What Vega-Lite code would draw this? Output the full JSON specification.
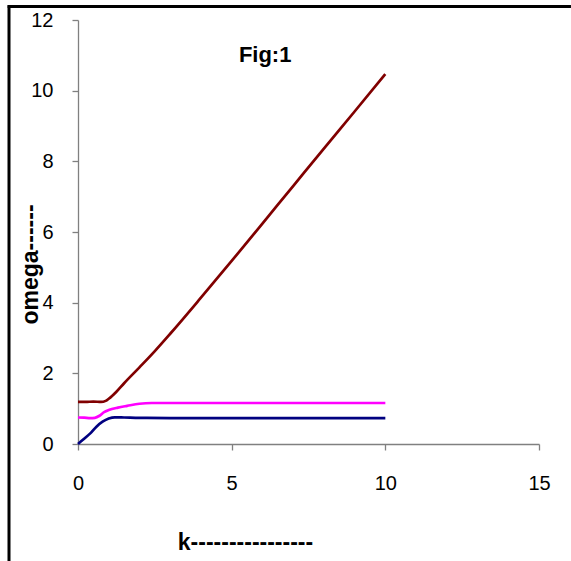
{
  "$schema": "https://vega.github.io/schema/vega-lite/v6.json",
  "width": 461,
  "height": 424,
  "autosize": {"type": "none"},
  "padding": {"left": 78, "top": 20, "right": 32, "bottom": 117},
  "background": "white",
  "config": {
    "view": {"stroke": null},
    "axis": {
      "grid": false,
      "domainColor": "#808080",
      "tickColor": "#808080",
      "domainWidth": 1.3,
      "tickWidth": 1.3,
      "tickSize": 6,
      "labelFlush": false,
      "labelOverlap": false,
      "labelFont": "Liberation Sans",
      "labelFontSize": 20,
      "labelColor": "black",
      "titleFont": "Liberation Sans",
      "titleFontSize": 23,
      "titleFontWeight": "bold",
      "titleColor": "black"
    }
  },
  "datasets": {
    "curves": [
      {"k": 0, "omega": 1.19, "series": "a"},
      {"k": 0.25, "omega": 1.19, "series": "a"},
      {"k": 0.5, "omega": 1.2, "series": "a"},
      {"k": 0.75, "omega": 1.19, "series": "a"},
      {"k": 0.9, "omega": 1.22, "series": "a"},
      {"k": 1.0, "omega": 1.28, "series": "a"},
      {"k": 1.25, "omega": 1.48, "series": "a"},
      {"k": 1.5, "omega": 1.72, "series": "a"},
      {"k": 2, "omega": 2.17, "series": "a"},
      {"k": 2.5, "omega": 2.63, "series": "a"},
      {"k": 3, "omega": 3.12, "series": "a"},
      {"k": 4, "omega": 4.14, "series": "a"},
      {"k": 5, "omega": 5.18, "series": "a"},
      {"k": 6, "omega": 6.24, "series": "a"},
      {"k": 7, "omega": 7.3, "series": "a"},
      {"k": 8, "omega": 8.36, "series": "a"},
      {"k": 9, "omega": 9.41, "series": "a"},
      {"k": 10, "omega": 10.47, "series": "a"},
      {"k": 0, "omega": 0.75, "series": "b"},
      {"k": 0.2, "omega": 0.745, "series": "b"},
      {"k": 0.4, "omega": 0.73, "series": "b"},
      {"k": 0.55, "omega": 0.74, "series": "b"},
      {"k": 0.7, "omega": 0.8, "series": "b"},
      {"k": 0.85, "omega": 0.9, "series": "b"},
      {"k": 1.0, "omega": 0.96, "series": "b"},
      {"k": 1.3, "omega": 1.03, "series": "b"},
      {"k": 1.6, "omega": 1.08, "series": "b"},
      {"k": 2.0, "omega": 1.14, "series": "b"},
      {"k": 2.4, "omega": 1.16, "series": "b"},
      {"k": 3, "omega": 1.16, "series": "b"},
      {"k": 5, "omega": 1.16, "series": "b"},
      {"k": 10, "omega": 1.16, "series": "b"},
      {"k": 0, "omega": 0, "series": "c"},
      {"k": 0.2, "omega": 0.15, "series": "c"},
      {"k": 0.4, "omega": 0.3, "series": "c"},
      {"k": 0.6, "omega": 0.49, "series": "c"},
      {"k": 0.8, "omega": 0.63, "series": "c"},
      {"k": 1.0, "omega": 0.72, "series": "c"},
      {"k": 1.2, "omega": 0.755, "series": "c"},
      {"k": 1.5, "omega": 0.75, "series": "c"},
      {"k": 2, "omega": 0.74, "series": "c"},
      {"k": 3, "omega": 0.735, "series": "c"},
      {"k": 10, "omega": 0.735, "series": "c"}
    ],
    "label": [{"k": 6.09, "omega": 10.82, "text": "Fig:1"}],
    "frame": [
      {"x1": -2.29, "x2": 16.04, "y1": 12.38, "y2": 12.38},
      {"x1": -2.245, "x2": -2.245, "y1": 12.42, "y2": -3.31}
    ]
  },
  "layer": [
    {
      "data": {"name": "curves"},
      "mark": {"type": "line", "interpolate": "monotone", "strokeWidth": 2.7},
      "encoding": {
        "x": {
          "field": "k", "type": "quantitative",
          "scale": {"domain": [0, 15], "nice": false},
          "axis": {
            "values": [0, 5, 10, 15],
            "labelPadding": 23,
            "title": "k----------------",
            "titleX": 167,
            "titleY": 105,
            "titleAlign": "center",
            "titleBaseline": "alphabetic"
          }
        },
        "y": {
          "field": "omega", "type": "quantitative",
          "scale": {"domain": [0, 12], "nice": false},
          "axis": {
            "values": [0, 2, 4, 6, 8, 10, 12],
            "labelPadding": 19,
            "title": "omega------",
            "titleX": -41,
            "titleY": 244,
            "titleAngle": -90,
            "titleAlign": "center",
            "titleBaseline": "alphabetic"
          }
        },
        "color": {
          "field": "series", "type": "nominal",
          "scale": {"domain": ["a", "b", "c"], "range": ["#800000", "#FF00FF", "#000080"]},
          "legend": null
        }
      }
    },
    {
      "data": {"name": "label"},
      "mark": {"type": "text", "font": "Liberation Sans", "fontSize": 22, "fontWeight": "bold", "baseline": "alphabetic", "align": "center", "color": "black"},
      "encoding": {
        "x": {"field": "k", "type": "quantitative"},
        "y": {"field": "omega", "type": "quantitative"},
        "text": {"field": "text"}
      }
    },
    {
      "data": {"name": "frame"},
      "mark": {"type": "rule", "color": "black", "strokeWidth": 3, "clip": false},
      "encoding": {
        "x": {"field": "x1", "type": "quantitative"},
        "x2": {"field": "x2"},
        "y": {"field": "y1", "type": "quantitative"},
        "y2": {"field": "y2"}
      }
    }
  ]
}
